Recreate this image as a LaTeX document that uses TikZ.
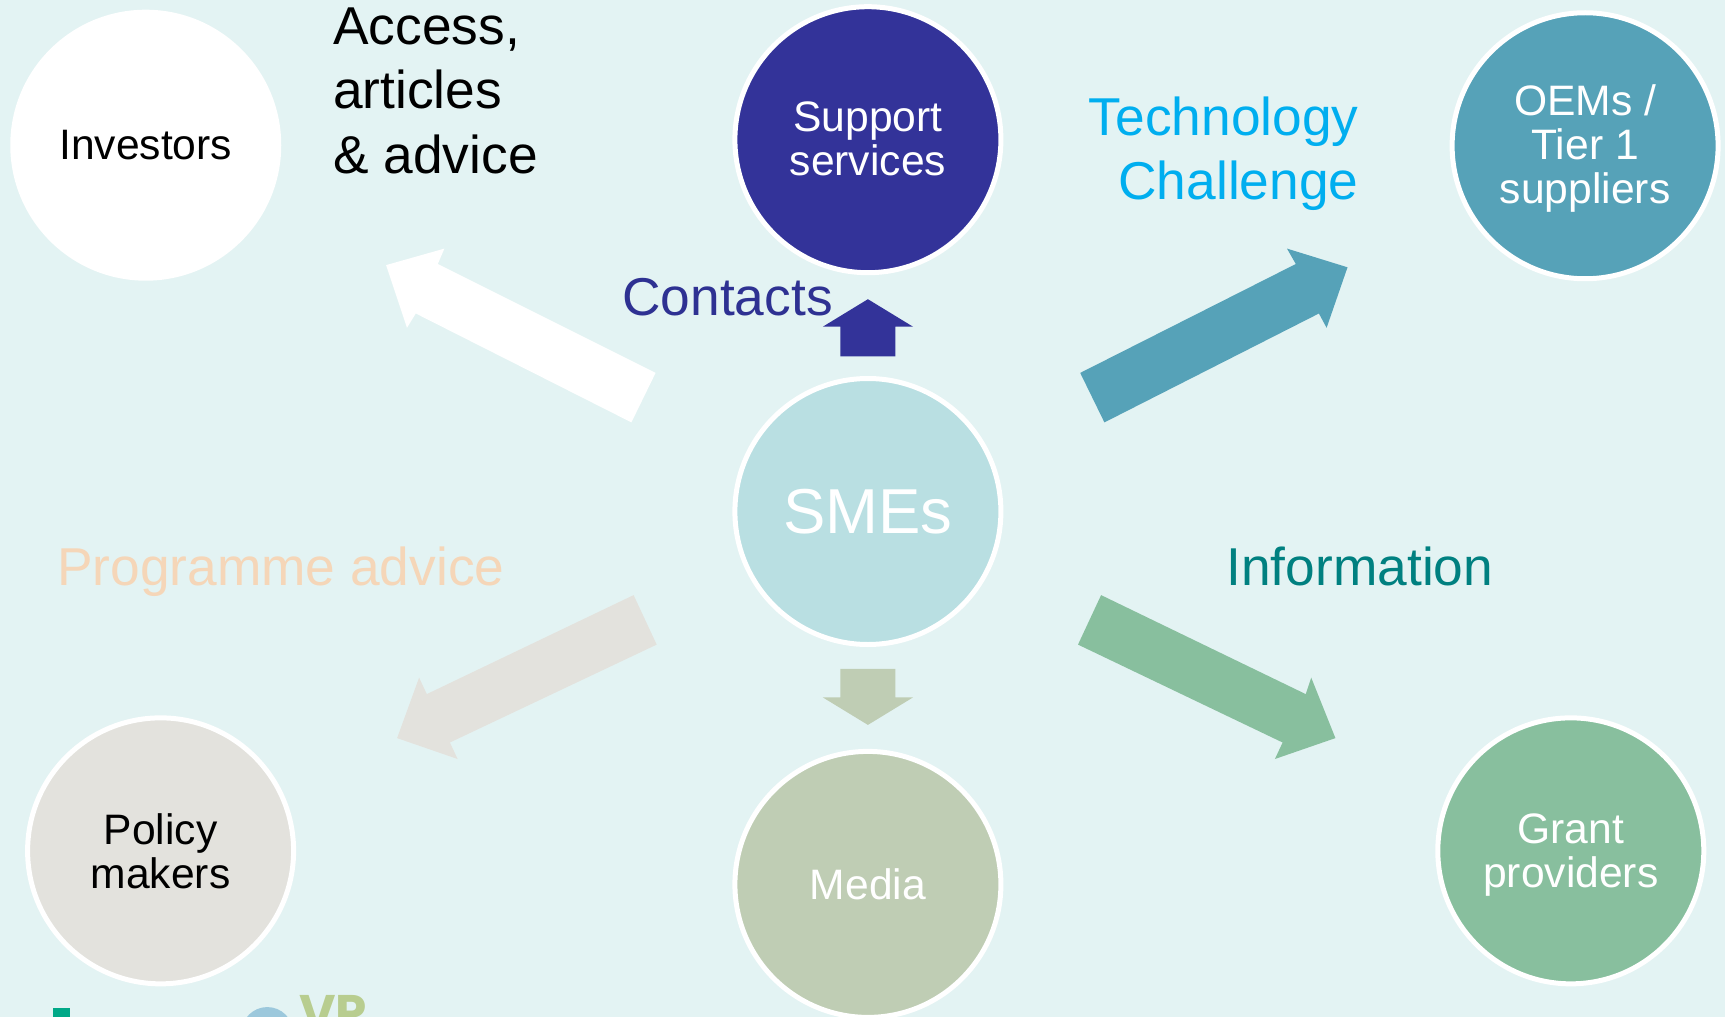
\documentclass[tikz,border=0pt]{standalone}
\usepackage{fontspec}
\setmainfont{Liberation Sans}
\newfontfamily\logofont{Poppins}
\definecolor{bgc}{HTML}{E3F3F3}
\definecolor{supportc}{HTML}{333399}
\definecolor{smec}{HTML}{B9DFE2}
\definecolor{mediac}{HTML}{BFCDB4}
\definecolor{oemc}{HTML}{56A2B8}
\definecolor{policyc}{HTML}{E3E2DD}
\definecolor{grantc}{HTML}{88BF9E}
\definecolor{contactc}{HTML}{2E3192}
\definecolor{techc}{HTML}{00AEEF}
\definecolor{progc}{HTML}{F5D6B8}
\definecolor{infoc}{HTML}{008080}
\definecolor{logog}{HTML}{00A887}
\definecolor{logob}{HTML}{9CC8DC}
\definecolor{logov}{HTML}{B8CD8F}
\tikzset{
  hub/.style={circle,draw=white,line width=5pt,minimum size=266pt,inner sep=0pt,outer sep=0pt,align=center,
     font=\fontsize{42.6}{44}\selectfont},
  hubtext/.style={inner sep=0pt,outer sep=0pt,align=center,font=\fontsize{42.6}{44}\selectfont},
  lab/.style={inner sep=0pt,outer sep=0pt,font=\fontsize{53.3}{64.4}\selectfont},
  blockarrow/.style={line width=0pt,draw=none}
}
\begin{document}
\begin{tikzpicture}[x=1.1pt,y=-1.1pt]
\useasboundingbox (0,0) rectangle (1568.18,923.64);
\fill[bgc] (-3,-3) rectangle (1572,928);
% circles
\node[hub,fill=white,draw=white,text=black] (investors) at (132.5,132) {Investors};
\node[hub,fill=supportc] (support) at (789,127) {};
\node[hubtext,text=white] (supporttext) at (789,126) {Support\\services};
\node[hub,fill=smec,text=white,font=\fontsize{63.5}{66}\selectfont] (smes) at (789,465) {SMEs};
\node[hub,fill=mediac,text=white] (media) at (789,804) {Media};
\node[hub,fill=oemc] (oems) at (1441,132.5) {};
\node[hubtext,text=white] (oemstext) at (1441,135) {OEMs /\\Tier 1\\suppliers};
\node[hub,fill=policyc] (policy) at (146,773.5) {};
\node[hubtext,text=black] (policytext) at (146,773.5) {Policy\\makers};
\node[hub,fill=grantc] (grant) at (1428,773.5) {};
\node[hubtext,text=white] (granttext) at (1428,777) {Grant\\providers};
% block arrows
\fill[white,blockarrow] (351,241) -- (404,226) -- (398,240) -- (596,339) -- (574,384) -- (378,285) -- (370,298) -- cycle;
\fill[supportc,blockarrow] (789,272) -- (830,297) -- (814,297) -- (814,324) -- (764,324) -- (764,297) -- (748,297) -- cycle;
\fill[oemc,blockarrow] (1225,243) -- (1170,226) -- (1178,240) -- (982,339) -- (1004,384) -- (1199,285) -- (1206,298) -- cycle;
\fill[grantc,blockarrow] (1214,671) -- (1192,616) -- (1187,631) -- (1001,541) -- (980,586) -- (1166,675) -- (1159,690) -- cycle;
\fill[policyc,blockarrow] (361,671) -- (381,616) -- (388,631) -- (576,541) -- (597,586) -- (409,675) -- (416,690) -- cycle;
\fill[mediac,blockarrow] (789,659) -- (830,634) -- (814,634) -- (814,608) -- (764,608) -- (764,634) -- (748,634) -- cycle;
% labels
\node[lab,anchor=north west,align=left,text=black] (access) at (303,7) {Access,\\articles\\\& advice};
\node[lab,anchor=east,text=contactc] (contacts) at (757,270) {Contacts};
\node[lab,anchor=north east,align=right,text=techc] (tech) at (1235,88) {Technology\\Challenge};
\node[lab,anchor=west,text=progc] (prog) at (52,520) {Programme advice};
\node[lab,anchor=west,text=infoc] (info) at (1115,515) {Information};
% logos cut by the lower edge
\fill[logog] (48,916) rectangle (64,930);
\fill[logob] (243,939) circle (23.5);
\node[inner sep=0pt,outer sep=0pt,anchor=base west,text=logov,font=\fontsize{50}{50}\logofont\bfseries] (vp) at (272,937) {VP};
\end{tikzpicture}
\end{document}
